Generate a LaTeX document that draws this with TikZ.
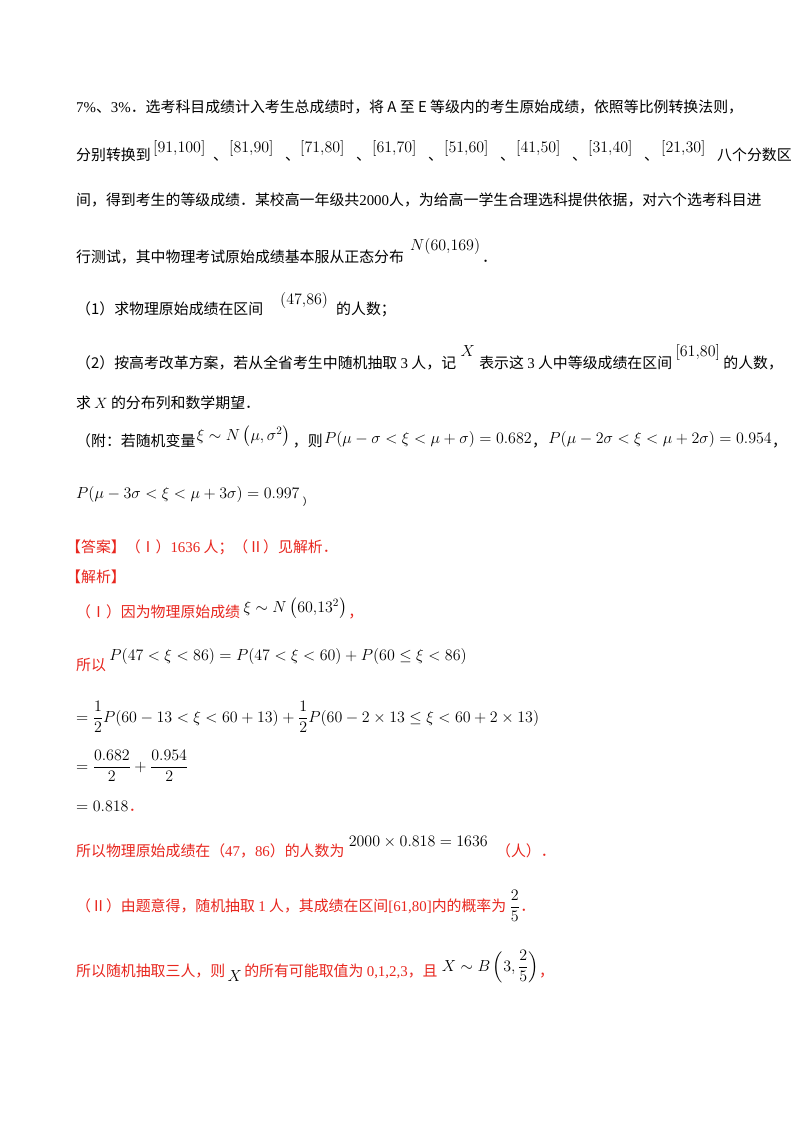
\RequirePackage{fix-cm}
\documentclass[tikz,border=0pt]{standalone}
\usepackage{amsmath}
\usepackage{fontspec}
\setmainfont{Noto Sans CJK SC}
\newfontfamily\tnr{Liberation Serif}
\definecolor{ans}{HTML}{E8261E}
\begin{document}
\begin{tikzpicture}[x=1pt,y=-1pt,
  t/.style={anchor=base west,inner sep=0pt,font=\fontsize{14.9}{17}\selectfont},
  m/.style={anchor=base west,inner sep=0pt,font=\fontsize{16}{19}\selectfont},
  r/.style={t,text=ans}]
\useasboundingbox[fill=white] (0,0) rectangle (800,1132);
\node[t] (l1) at (76,112) {{\tnr 7\%}、{\tnr 3\%}．选考科目成绩计入考生总成绩时，将 $\mathit{A}$ 至 $\mathit{E}$ 等级内的考生原始成绩，依照等比例转换法则，};
\node[t] (l2) at (76,160) {分别转换到};
\node[m] (i1) at (153,152) {$[91{,}100]$};
\node[t] at (213,160) {、};
\node[m] (i2) at (229,152) {$[81{,}90]$};
\node[t] at (285,160) {、};
\node[m] (i3) at (300,152) {$[71{,}80]$};
\node[t] at (356,160) {、};
\node[m] (i4) at (372,152) {$[61{,}70]$};
\node[t] at (428,160) {、};
\node[m] (i5) at (444,152) {$[51{,}60]$};
\node[t] at (500,160) {、};
\node[m] (i6) at (516,152) {$[41{,}50]$};
\node[t] at (572,160) {、};
\node[m] (i7) at (588,152) {$[31{,}40]$};
\node[t] at (644,160) {、};
\node[m] (i8) at (661,152) {$[21{,}30]$};
\node[t] at (717,160) {八个分数区};
\node[t] (l3) at (76,205) {间，得到考生的等级成绩．某校高一年级共{\tnr 2000}人，为给高一学生合理选科提供依据，对六个选考科目进};
\node[t] (l4) at (76,262) {行测试，其中物理考试原始成绩基本服从正态分布};
\node[m] at (410,250) {$N(60{,}169)$};
\node[t] at (482,262) {．};
\node[t] (l5) at (76,314) {（1）求物理原始成绩在区间};
\node[m] at (280,304) {$(47{,}86)$};
\node[t] at (336,314) {的人数；};
\node[t] (l6) at (76,368) {（2）按高考改革方案，若从全省考生中随机抽取 {\tnr 3} 人，记};
\node[m] (l6x) at ([xshift=4pt]l6.base east |- 0,356) {$X$};
\node[t] (l6b) at ([xshift=4pt]l6x.base east |- 0,368) {表示这 {\tnr 3} 人中等级成绩在区间};
\node[m] (l6m) at ([xshift=3pt]l6b.base east |- 0,356) {$[61{,}80]$};
\node[t] at ([xshift=3pt]l6m.base east |- 0,368) {的人数，};
\node[t] (l7) at (76,408) {求 $X$ 的分布列和数学期望．};
\node[t] (l8) at (76,446) {（附：若随机变量};
\node[m] (x1) at ([xshift=1pt]l8.base east |- 0,440) {$\xi\sim N\left(\mu,\sigma^2\right)$};
\node[t] (x2) at ([xshift=2pt]x1.base east |- 0,446) {，则};
\node[m] (x3) at ([xshift=1pt]x2.base east |- 0,443) {$P(\mu-\sigma<\xi<\mu+\sigma)=0.682$};
\node[t] (x4) at (x3.base east |- 0,446) {，};
\node[m] (x5) at ([xshift=1pt]x4.base east |- 0,443) {$P(\mu-2\sigma<\xi<\mu+2\sigma)=0.954$};
\node[t] at (x5.base east |- 0,446) {，};
\node[m] (l9) at (76,498) {$P(\mu-3\sigma<\xi<\mu+3\sigma)=0.997$};
\node[t,font=\fontsize{10}{12}\selectfont] at ([xshift=3pt]l9.base east |- 0,505) {）};
\node[r] (a1) at (66,552) {【答案】（Ⅰ）{\tnr 1636} 人；（Ⅱ）见解析．};
\node[r] (a2) at (66,582) {【解析】};
\node[r] (a3) at (76,617) {（Ⅰ）因为物理原始成绩};
\node[m] (a3m) at ([xshift=3pt]a3.base east |- 0,612) {$\xi\sim N\left(60{,}13^2\right)$};
\node[r] at ([xshift=1pt]a3m.base east |- 0,617) {，};
\node[r] (a4) at (76,670) {所以};
\node[m] at ([xshift=3pt]a4.base east |- 0,660) {$P(47<\xi<86)=P(47<\xi<60)+P(60\le\xi<86)$};
\node[m] (a5) at (76,722) {$=\dfrac12P(60-13<\xi<60+13)+\dfrac12P(60-2\times13\le\xi<60+2\times13)$};
\node[m] (a6) at (76,771) {$=\dfrac{0.682}{2}+\dfrac{0.954}{2}$};
\node[m] (a7) at (76,811) {$=0.818$};
\node[r] at (a7.base east) {．};
\node[r] (a8) at (76,856) {所以物理原始成绩在（{\tnr 47}，{\tnr 86}）的人数为};
\node[m] (a8m) at ([xshift=4pt]a8.base east |- 0,846) {$2000\times0.818=1636$};
\node[r] at ([xshift=8pt]a8m.base east |- 0,856) {（人）．};
\node[r] (a9) at (76,911) {（Ⅱ）由题意得，随机抽取 {\tnr 1} 人，其成绩在区间{\tnr [61,80]}内的概率为};
\node[m] (a9m) at ([xshift=3pt]a9.base east) {$\dfrac25$};
\node[r] at (a9m.base east) {．};
\node[r] (a10) at (76,976) {所以随机抽取三人，则};
\node[m] (a10x) at ([xshift=2pt]a10.base east |- 0,981) {$X$};
\node[r] (a10b) at ([xshift=2pt]a10x.base east |- 0,976) {的所有可能取值为 {\tnr 0,1,2,3}，且};
\node[m] (a10m) at ([xshift=4pt]a10b.base east |- 0,971) {$X\sim B\left(3,\dfrac25\right)$};
\node[r] at (a10m.base east |- 0,976) {，};
\end{tikzpicture}
\end{document}
